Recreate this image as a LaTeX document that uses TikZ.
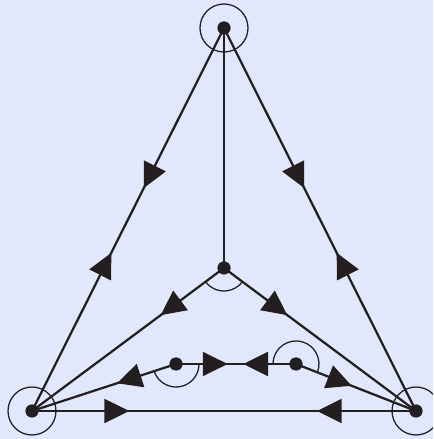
\documentclass[tikz,border=0pt]{standalone}
\usepackage{tikz}
\usetikzlibrary{arrows.meta,decorations.markings}
\definecolor{graphbg}{RGB}{226,232,251}
\definecolor{graphink}{RGB}{35,31,32}

\begin{document}
\begin{tikzpicture}[x=0.025cm, y=0.025cm,
    edge/.style={line width=1.6pt, draw=graphink},
    ring/.style={line width=0.9pt, draw=graphink},
    vertex/.style={circle, fill=graphink, inner sep=0pt, minimum size=0.33cm},
    fwd/.style={postaction={decorate, decoration={markings,
        mark=at position #1 with {\arrow{Triangle[length=0.62cm,width=0.6cm]}}}}},
    bwd/.style={postaction={decorate, decoration={markings,
        mark=at position #1 with {\arrowreversed{Triangle[length=0.62cm,width=0.6cm]}}}}},
  ]
  \clip (0,0) rectangle (433,439);
  \fill[graphbg] (0,0) rectangle (433,439);

  % Ecken und innere Punkte
  \node[vertex] (top) at (224,411) {};
  \node[vertex] (left) at (32,28) {};
  \node[vertex] (right) at (416,28) {};
  \node[vertex] (mid) at (224,171) {};
  \node[vertex] (ka) at (176,75) {};
  \node[vertex] (kb) at (296,75) {};

  % Kreise um die Ecken
  \draw[ring] (top.center) circle[radius=24];
  \draw[ring] (left.center) circle[radius=24];
  \draw[ring] (right.center) circle[radius=24];

  % Winkelboegen
  \draw[ring] (mid.center) ++(216.7:23) arc[start angle=216.7, end angle=323.3, radius=23];
  \draw[ring] (ka.center) ++(198.1:23) arc[start angle=198.1, end angle=360, radius=23];
  \draw[ring] (kb.center) ++(180:23) arc[start angle=180, end angle=-21.4, radius=23];

  % Kanten
  \draw[edge, fwd=0.418, bwd=0.587] (top.center) -- (left.center);
  \draw[edge, fwd=0.418, bwd=0.587] (top.center) -- (right.center);
  \draw[edge] (top.center) -- (mid.center);
  \draw[edge, fwd=0.33] (mid.center) -- (left.center);
  \draw[edge, fwd=0.33] (mid.center) -- (right.center);
  \draw[edge, fwd=0.253, bwd=0.742] (left.center) -- (right.center);
  \draw[edge, fwd=0.41] (ka.center) -- (left.center);
  \draw[edge, fwd=0.43, bwd=0.56] (ka.center) -- (kb.center);
  \draw[edge, fwd=0.464] (kb.center) -- (right.center);
\end{tikzpicture}
\end{document}
